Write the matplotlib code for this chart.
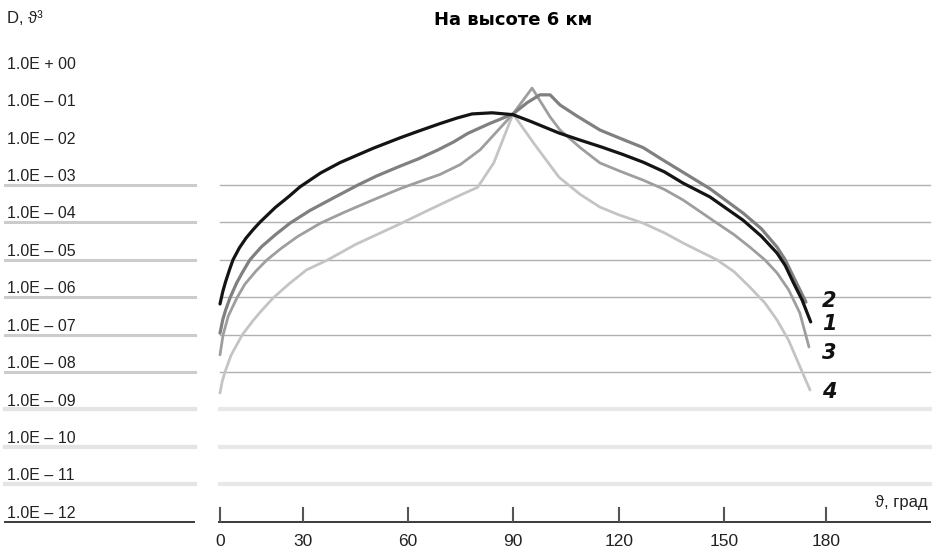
import matplotlib
matplotlib.use('Agg')
import matplotlib.pyplot as plt
import numpy as np

# ---------- данные: угол рассеяния (град) и lg D ----------
angle_1 = [0, 1, 2, 3.5, 4.7, 7, 9.4, 12, 14.5, 20, 25, 28.9, 35, 40.6, 50, 57.7, 63, 69.1,
           74, 78.3, 84, 90, 95, 103, 109, 114.9, 121, 126.9, 133, 138.3, 146, 155.6, 161,
           165.6, 168, 170.3, 173, 175.5]
lg_d_1 = [-6.18, -5.85, -5.59, -5.25, -5.00, -4.68, -4.42, -4.19, -3.99, -3.60, -3.30, -3.05,
          -2.68, -2.40, -2.02, -1.74, -1.56, -1.36, -1.21, -1.10, -1.07, -1.12, -1.30, -1.61,
          -1.80, -1.98, -2.18, -2.39, -2.65, -2.95, -3.32, -3.94, -4.37, -4.82, -5.15, -5.59,
          -6.08, -6.66]

angle_2 = [0, 1, 2, 3.6, 6, 8, 10.8, 15, 20, 25.3, 32, 39, 45.7, 51, 57.1, 63, 68.6, 73, 77.1,
           83, 90, 94, 97.6, 100.5, 103.3, 108, 114.6, 120, 126.9, 132, 138.3, 146, 155.6,
           161, 165.6, 168, 170.9, 174.1]
lg_d_2 = [-6.96, -6.60, -6.35, -6.02, -5.62, -5.35, -5.00, -4.65, -4.33, -4.02, -3.68, -3.33,
          -3.00, -2.76, -2.52, -2.30, -2.06, -1.85, -1.62, -1.37, -1.10, -0.80, -0.59, -0.59,
          -0.86, -1.15, -1.53, -1.74, -2.00, -2.30, -2.66, -3.10, -3.75, -4.17, -4.66, -5.00,
          -5.54, -6.13]

angle_3 = [0, 1.1, 3, 6.1, 9, 13, 17, 22, 28, 35, 42, 50, 57.7, 63, 69.1, 75, 80.6, 90, 95.4,
           100.5, 103.3, 109, 114.6, 120, 126.9, 133, 138.3, 143, 148, 153, 157.6, 162,
           165.6, 169, 172.3, 175]
lg_d_3 = [-7.54, -7.01, -6.50, -6.02, -5.65, -5.30, -5.00, -4.70, -4.38, -4.02, -3.72, -3.40,
          -3.10, -2.92, -2.72, -2.45, -2.06, -1.10, -0.41, -1.18, -1.53, -2.00, -2.41, -2.62,
          -2.87, -3.12, -3.40, -3.70, -4.02, -4.33, -4.66, -5.00, -5.35, -5.80, -6.42, -7.33]

angle_4 = [0, 0.8, 1.8, 4, 8, 12, 15, 19.2, 25, 31, 37.1, 45, 51, 57.7, 65, 73.1, 79.9, 84.5,
           90, 96, 103, 109, 114.6, 120, 126.9, 133, 138.3, 143, 148, 153, 157.6, 162, 165.6,
           169, 171.5, 175.3]
lg_d_4 = [-8.56, -8.25, -8.00, -7.55, -7.01, -6.62, -6.36, -6.02, -5.64, -5.27, -5.00, -4.59,
          -4.33, -4.04, -3.71, -3.35, -3.06, -2.41, -1.10, -1.90, -2.79, -3.25, -3.59, -3.80,
          -4.02, -4.28, -4.55, -4.77, -5.00, -5.32, -5.73, -6.15, -6.61, -7.15, -7.68, -8.48]

curve_names = ['1', '2', '3', '4']
x_ticks = [0, 30, 60, 90, 120, 150, 180]
y_exponents = [0, -1, -2, -3, -4, -5, -6, -7, -8, -9, -10, -11, -12]

# ---------- оформление ----------
W, H = 940, 560
FONT = ['Liberation Sans', 'DejaVu Sans']
COLORS = {'1': '#141414', '2': '#808080', '3': '#9e9e9e', '4': '#c4c4c4'}
WIDTHS = {'1': 2.3, '2': 2.3, '3': 2.0, '4': 2.0}

# ось абсцисс в оригинале неравномерная: позиции делений в пикселях
TICK_PX = [220, 303, 408, 513, 619, 724, 826]
knots_deg = np.array([-200] + x_ticks + [400], dtype=float)
knots_px = np.array([220 - 200 * 83 / 30] + TICK_PX + [826 + 220 * 102 / 30])


def fwd(x):
    return np.interp(x, knots_deg, knots_px)


def inv(p):
    return np.interp(p, knots_px, knots_deg)


# вертикаль: 1E-03 на y=185px, 37.41 px на декаду
PX_DEC = 37.41


def ylog(py):
    return 10 ** (-3 - (py - 185) / PX_DEC)


fig = plt.figure(figsize=(W / 100, H / 100), dpi=100)
ax = fig.add_axes([0, 0, 1, 1])
ax.set_xscale('function', functions=(fwd, inv))
ax.set_yscale('log')
ax.set_xlim(inv(0), inv(W))
ax.set_ylim(ylog(H), ylog(0))
ax.axis('off')

ytr = ax.get_yaxis_transform()

# подписи и линии слева
for e in y_exponents:
    sign = '+' if e >= 0 else '\u2013'
    label = f'1.0E {sign} {abs(e):02d}'
    ax.text(7 / W, 10 ** (e + 0.105), label, transform=ytr, fontsize=11.5,
            family=FONT, va='baseline', ha='left', color='#222222')
    if e > -3:
        continue
    if e == -12:
        kw = dict(color='#3a3a3a', lw=1.4)
        ax.plot([5 / W, 194 / W], [1e-12, 1e-12], transform=ytr, **kw)
        ax.plot([219 / W, 930 / W], [1e-12, 1e-12], transform=ytr, **kw)
    elif e <= -9:
        ax.plot([5 / W, 195 / W], [10.0 ** e] * 2, transform=ytr, color='#e4e4e4', lw=3)
        ax.plot([220 / W, 930 / W], [10.0 ** e] * 2, transform=ytr, color='#e8e8e8', lw=3)
    else:
        ax.plot([5 / W, 195 / W], [10.0 ** e] * 2, transform=ytr, color='#cccccc', lw=2.2)
        ax.plot([220 / W, 930 / W], [10.0 ** e] * 2, transform=ytr, color='#b0b0b0', lw=1)

# кривые
data = {'1': (angle_1, lg_d_1), '2': (angle_2, lg_d_2),
        '3': (angle_3, lg_d_3), '4': (angle_4, lg_d_4)}
for name in ['4', '3', '2', '1']:
    a, lg = data[name]
    ax.plot(a, 10.0 ** np.array(lg), color=COLORS[name], lw=WIDTHS[name],
            solid_capstyle='round', solid_joinstyle='round', zorder=3)

# номера кривых
label_py = {'2': 301, '1': 324, '3': 353, '4': 392}
for name in curve_names:
    ax.text(inv(829), ylog(label_py[name]), name, fontsize=15, weight='heavy',
            style='italic', family='DejaVu Sans', ha='center', va='center', color='#111111')

# деления и подписи оси абсцисс
for t in x_ticks:
    ax.plot([t, t], [ylog(521), ylog(508)], color='#555555', lw=1.5)
    ax.text(t, ylog(541.5), str(t), fontsize=12.5, family=FONT, ha='center', va='center',
            color='#222222')

ax.text(928 / W, ylog(507), '\u03d1, град', transform=ytr, fontsize=12,
        family=FONT, ha='right', va='baseline', color='#222222')

fig.text(7 / W, 1 - 23 / H, 'D, \u03d1\u00b3', fontsize=12, family=FONT,
         ha='left', va='baseline', color='#222222')
fig.text(513 / W, 1 - 20 / H, 'На высоте 6 км', fontsize=13, weight='heavy',
         family='DejaVu Sans', ha='center', va='center')

fig.savefig('out.png', dpi=100, facecolor='white')
